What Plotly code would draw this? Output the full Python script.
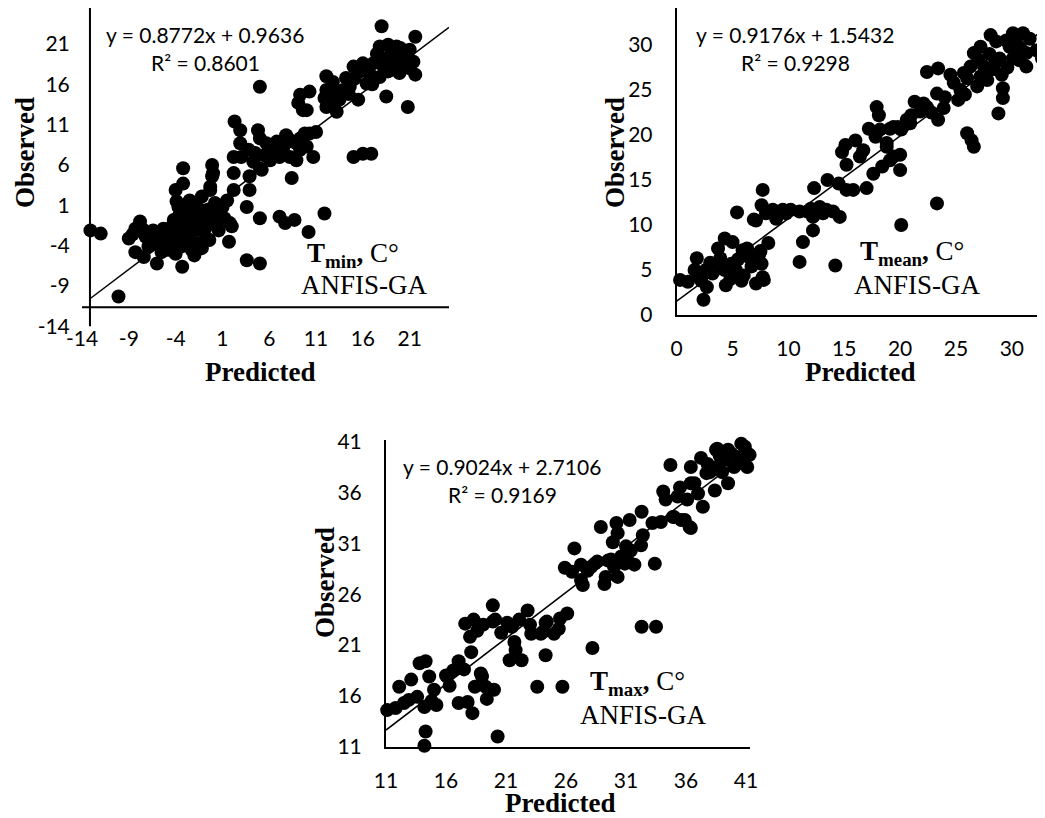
import plotly.graph_objects as go

# page body has an 8px margin, so the figure is drawn 8px in from the window corner
OFF = 8
W, H = 1045 - OFF, 818 - OFF

# ---------------- data ----------------
tmin_pred = [-13.1,-12.0,-10.1,-9.0,-7.8,-8.3,-8.3,-7.4,-6.0,-6.9,
 -6.4,-5.3,-5.8,-4.8,-4.0,-3.3,-3.7,-4.0,-3.2,-3.2,
 -3.7,-3.0,-2.3,-1.9,-2.3,-1.5,-1.2,-0.3,-0.1,-0.1,
 0.2,0.1,0.6,1.0,1.7,2.0,-4.8,-4.4,-2.6,-3.3,
 -4.0,-1.2,-0.7,-0.8,-5.8,-6.9,-7.2,-5.0,-4.5,-3.5,
 -3.0,-2.5,-2.0,-1.6,-3.8,-4.2,-2.8,-1.0,-0.5,0.3,
 -1.8,-2.5,-3.4,-5.5,-6.5,-7.5,-8.6,-2.0,-1.2,-0.4,
 0.4,1.2,1.5,-2.9,-3.9,
 2.3,2.9,4.8,5.0,2.9,2.2,3.0,3.8,4.5,5.7,
 6.8,7.8,8.2,8.9,9.3,7.1,6.1,8.2,9.3,10.0,
 10.7,8.9,8.4,5.0,2.2,3.9,3.9,2.2,0.0,-0.3,
 1.8,3.6,5.0,7.1,7.7,8.7,10.2,11.9,3.6,5.0,
 5.0,5.2,4.3,6.5,7.5,5.5,9.8,11.0,10.3,9.3,
 9.1,9.6,10.3,10.0,
 12.1,12.1,12.8,13.5,18.0,21.6,21.6,20.8,18.5,11.9,
 12.1,13.2,12.8,13.9,15.0,16.0,15.1,15.5,16.4,17.5,
 17.8,18.7,19.6,21.0,21.4,20.3,19.2,18.2,17.8,18.7,
 19.9,21.0,17.1,15.7,14.6,13.5,15.0,16.0,16.9,14.2,
 16.8,19.5,20.5,18.0,17.0,14.5,13.0,20.0,19.0,16.5]
tmin_obs = [-2.1,-2.5,-10.3,-3.1,-1.0,-1.9,-4.8,-5.4,-6.2,-2.5,
 -2.1,-1.9,-3.7,-4.5,-5.0,-6.6,0.8,2.9,3.7,5.6,
 -0.4,-1.2,-0.4,-2.1,-4.5,-3.7,2.1,2.9,4.6,6.0,
 1.3,-0.4,-2.1,0.8,-3.5,-1.6,-2.9,-1.6,-2.9,-2.5,
 -3.7,0.4,-1.6,-2.9,-2.9,-4.1,-2.9,-3.5,-2.2,-1.8,
 -3.4,-1.5,-0.9,-1.3,-2.6,-0.8,-0.2,-0.5,0.5,0.2,
 1.0,1.6,-4.1,-4.8,-3.2,-2.0,-2.6,-5.2,-4.3,-3.3,
 -1.2,-0.6,1.6,0.5,1.5,
 11.4,10.3,10.3,9.3,8.7,7.0,7.0,7.9,7.5,8.7,
 8.9,9.7,9.1,8.7,9.3,7.0,6.6,7.0,7.9,8.3,
 7.0,6.6,4.4,5.6,5.0,4.6,2.9,2.9,5.0,3.3,
 -1.2,0.8,-0.6,-0.4,-1.2,-0.8,-2.3,0.0,-5.8,-6.2,
 15.7,5.4,6.4,7.5,8.2,7.2,9.9,10.1,9.9,14.7,
 13.7,12.8,15.1,12.8,
 17.0,15.3,13.7,14.5,23.2,21.9,17.2,13.2,14.5,14.3,
 13.2,12.6,16.3,15.3,18.2,18.6,16.7,14.1,16.1,19.8,
 20.7,20.9,20.7,20.3,18.8,18.6,18.6,18.2,16.9,17.6,
 17.4,18.0,18.6,17.6,15.7,14.1,7.0,7.4,7.4,16.8,
 17.2,19.5,19.8,19.2,16.0,14.8,15.0,20.5,19.8,18.0]

tmean_pred = [0.3,1.0,1.8,2.4,1.6,2.6,2.7,3.2,3.4,3.7,
 4.3,5.0,4.4,4.3,4.9,5.3,5.9,6.4,6.7,7.1,
 7.7,7.6,7.4,8.2,5.4,6.3,7.8,6.9,7.7,7.1,
 7.6,8.0,8.6,8.9,9.5,9.8,10.2,11.0,11.7,12.3,
 12.8,13.4,14.0,14.6,13.1,12.2,12.2,11.3,11.0,14.2,
 12.3,13.5,14.5,15.2,15.8,17.0,15.2,14.8,15.1,16.0,
 16.4,16.7,17.2,17.9,18.1,17.8,18.2,18.8,19.4,20.1,
 20.9,21.3,21.8,22.4,23.4,24.5,23.3,23.9,23.4,22.4,
 17.6,18.4,19.1,20.0,20.0,23.3,20.1,22.1,25.2,25.4,
 25.7,26.3,26.6,27.2,28.1,28.6,28.9,28.5,27.8,26.9,
 29.2,29.2,29.1,28.8,26.0,26.4,26.6,30.1,31.0,31.6,
 31.3,30.7,31.3,30.1,29.8,32.2,32.7,27.5,27.2,19.8,
 19.1,20.6,18.8,19.4,2.0,3.0,5.5,6.0,4.8,5.8,
 6.8,3.9,2.2,24.8,25.8,27.0,28.0,29.5,30.5,28.3,
 26.0,24.0,22.8,21.0,30.8,29.6,7.5,12.0]
tmean_obs = [3.9,3.7,6.3,1.7,5.0,5.0,3.1,4.6,5.0,7.4,
 8.5,8.1,3.3,5.0,5.7,5.0,7.2,6.5,5.4,3.5,
 4.2,5.7,6.8,8.0,11.4,7.4,3.9,10.6,13.9,10.5,
 12.2,11.3,11.7,10.7,11.7,11.3,11.7,11.5,11.5,11.3,
 12.0,11.7,11.5,10.9,11.3,10.9,9.4,8.1,5.9,5.5,
 14.1,15.0,14.6,13.9,13.9,14.1,16.7,18.1,18.9,19.4,
 17.6,18.3,20.7,23.1,22.2,19.8,20.6,19.1,20.9,20.6,
 21.3,23.7,22.6,27.0,27.4,26.7,24.6,23.0,21.7,23.1,
 15.7,16.5,17.2,17.8,16.1,12.4,10.0,23.5,23.9,25.0,
 26.9,27.6,29.1,29.8,31.1,30.4,28.5,28.0,26.1,25.4,
 25.2,24.1,26.7,22.4,20.2,19.4,18.7,31.3,31.3,30.7,
 29.1,28.3,27.6,28.5,29.8,29.4,28.5,27.6,26.5,20.9,
 20.7,21.7,18.7,17.6,4.3,5.8,6.2,4.4,4.0,3.8,
 6.0,6.3,3.8,25.8,24.5,28.4,29.0,30.5,30.0,27.3,
 26.3,24.2,22.5,22.2,29.6,27.5,7.1,11.8]

tmax_pred = [11.1,11.8,12.1,13.1,12.9,13.8,14.3,14.6,13.6,14.2,
 14.3,14.2,15.2,15.0,16.1,16.6,17.05,17.8,18.2,18.1,
 17.6,18.3,18.6,18.0,19.1,19.9,19.9,18.9,19.3,20.0,
 19.4,18.4,19.0,17.05,20.3,20.6,21.1,21.7,21.8,21.3,
 22.3,22.1,22.8,23.1,23.0,23.9,24.3,24.3,23.6,25.0,
 25.4,25.5,25.7,26.1,25.9,26.7,27.25,27.25,27.4,28.1,
 28.6,28.2,29.2,28.9,29.9,30.2,30.3,30.6,30.0,30.3,
 31.1,31.7,31.4,32.25,32.4,31.3,32.3,33.2,33.9,34.9,
 33.4,32.3,33.5,35.9,36.4,34.1,34.3,34.7,35.3,36.1,
 36.4,37.0,37.4,37.25,37.7,38.4,38.5,39.5,39.2,39.75,
 40.6,41.1,41.1,40.0,38.6,39.5,28.4,29.3,29.75,30.9,
 36.4,36.7,38.6,40.0,40.9,41.3,35.0,35.6,36.3,24.4,
 24.1,38.0,39.0,40.3,39.8,38.8,37.8,40.5,35.5,12.5,
 16.3,17.5,14.8,21.5,20.1,26.5,27.8,29.5,31.0,16.0]
tmax_obs = [14.6,14.8,16.9,17.6,15.6,19.2,19.4,17.9,15.9,14.9,
 12.5,11.1,15.1,16.6,17.9,18.5,19.4,15.4,14.3,20.3,
 23.1,23.5,22.4,21.8,23.0,23.3,24.9,18.2,16.9,16.6,
 15.7,16.9,17.9,15.3,12.0,22.2,23.2,21.3,20.5,19.5,
 19.5,23.5,24.4,22.1,23.0,22.1,23.2,20.0,16.9,22.1,
 22.6,23.6,16.9,24.1,28.6,30.5,28.9,27.4,26.9,28.7,
 29.2,20.7,27.0,32.6,31.1,33.0,32.0,29.7,28.7,27.7,
 29.4,28.9,30.3,30.8,31.8,33.3,34.1,33.0,33.1,33.6,
 29.0,22.8,22.8,33.3,32.5,36.1,35.3,38.7,35.6,35.3,
 36.9,35.9,34.6,39.4,37.9,36.2,40.2,36.9,39.2,41.3,
 40.8,39.8,38.5,38.5,38.5,40.2,29.0,27.7,29.4,29.0,
 38.5,36.9,40.3,41.2,40.5,39.7,33.6,33.3,32.6,23.3,
 22.3,38.0,38.0,39.5,39.8,39.6,38.8,38.9,36.5,15.3,
 17.0,18.6,15.5,22.8,23.5,28.2,28.3,29.3,30.7,18.0]

# trendline coefficients (as printed on the chart)
fit_tmin = (0.8772, 0.9636)
fit_tmean = (0.9176, 1.5432)
fit_tmax = (0.9024, 2.7106)

eq_tmin = ["y = 0.8772x + 0.9636", "R² = 0.8601"]
eq_tmean = ["y = 0.9176x + 1.5432", "R² = 0.9298"]
eq_tmax = ["y = 0.9024x + 2.7106", "R² = 0.9169"]

ticks_tmin = [-14, -9, -4, 1, 6, 11, 16, 21]
ticks_tmean = [0, 5, 10, 15, 20, 25, 30]
ticks_tmax = [11, 16, 21, 26, 31, 36, 41]

for a, b in [(tmin_pred, tmin_obs), (tmean_pred, tmean_obs), (tmax_pred, tmax_obs)]:
    assert len(a) == len(b)

# ---------------- layout helpers (window pixels -> paper) ----------------
def px(x):
    return (x - OFF) / W

def py(y):
    return 1 - (y - OFF) / H

def xdom(l, r):
    return [max(0.0, px(l)), min(1.0, px(r))]

def ydom(top, bottom):
    return [max(0.0, py(bottom)), min(1.0, py(top))]

SANS = "Lato, 'Open Sans', sans-serif"
SERIF = "'Liberation Serif', 'Times New Roman', serif"
TICKFONT = dict(family=SANS, size=21, color="black")

fig = go.Figure()

panels = [
    dict(xa="x", ya="y", pred=tmin_pred, obs=tmin_obs, fit=fit_tmin,
         line_x=(-13.15, 25.2)),
    dict(xa="x2", ya="y2", pred=tmean_pred, obs=tmean_obs, fit=fit_tmean,
         line_x=(0.0, 33.0)),
    dict(xa="x3", ya="y3", pred=tmax_pred, obs=tmax_obs, fit=fit_tmax,
         line_x=(11.0, 41.3)),
]

for p in panels:
    m, c = p["fit"]
    lx = list(p["line_x"])
    fig.add_trace(go.Scatter(x=lx, y=[m * v + c for v in lx], mode="lines",
                             line=dict(color="black", width=1.5),
                             xaxis=p["xa"], yaxis=p["ya"], showlegend=False,
                             hoverinfo="skip"))
    fig.add_trace(go.Scatter(x=p["pred"], y=p["obs"], mode="markers",
                             marker=dict(color="black", size=14, line=dict(width=0)),
                             xaxis=p["xa"], yaxis=p["ya"], showlegend=False,
                             cliponaxis=False))

def axis(dom, rng, ticks, anchor, ticklen, showline, **kw):
    d = dict(domain=dom, range=rng, tickmode="array", tickvals=ticks,
             ticktext=[str(t) for t in ticks], showgrid=False, zeroline=False,
             showline=showline, linecolor="black", linewidth=2,
             ticks="outside", ticklen=ticklen, tickcolor="rgba(0,0,0,0)",
             tickfont=TICKFONT, anchor=anchor, fixedrange=True,
             automargin=False)
    d.update(kw)
    return d

fig.update_layout(
    width=W, height=H, margin=dict(l=0, r=0, t=0, b=0, autoexpand=False),
    paper_bgcolor="white", plot_bgcolor="white",
    xaxis=axis(xdom(82, 449), [-14, 25.2], ticks_tmin, "free", 0, False,
               position=py(320)),
    yaxis=axis(ydom(8, 326.4), [-14, 25.46], ticks_tmin, "x", 7, False),
    xaxis2=axis(xdom(676.7, 1045), [0, 32.97], ticks_tmean, "y2", 14, True),
    yaxis2=axis(ydom(8.3, 315), [0, 34.08], ticks_tmean, "x2", 18, True),
    xaxis3=axis(xdom(386, 750), [11, 41.33], ticks_tmax, "y3", 14, True),
    yaxis3=axis(ydom(440, 746.7), [11, 41.16], ticks_tmax, "x3", 18, True),
)

# axis lines of the first panel cross inside the plot area
fig.add_shape(type="line", xref="x", yref="y", x0=-13.15, x1=-13.15, y0=-14, y1=25.46,
              line=dict(color="black", width=2))
fig.add_shape(type="line", xref="x", yref="y", x0=-14, x1=25.2, y0=-11.63, y1=-11.63,
              line=dict(color="black", width=2))

EQFONT = dict(family=SANS, size=21, color="black")
TITLEFONT = dict(family=SERIF, size=27, color="black")

def ann(x, y, text, font, angle=0):
    fig.add_annotation(x=px(x), y=py(y), xref="paper", yref="paper", text=text,
                       showarrow=False, font=font, textangle=angle,
                       xanchor="center", yanchor="middle")

labels = [
    (eq_tmin, (205, 34), (205, 63), "<b>T<sub>min</sub>,</b> C°", (353, 255), (364, 285),
     (25, 153), (260, 372)),
    (eq_tmean, (795, 34), (795, 63), "<b>T<sub>mean</sub>,</b> C°", (912, 253), (917, 285),
     (615, 153), (860, 372)),
    (eq_tmax, (502, 466), (502, 495), "<b>T<sub>max</sub>,</b> C°", (637, 683), (643, 715),
     (325, 583), (560, 803)),
]
for eq, peq, pr2, tname, pt, pa, pobs, ppred in labels:
    ann(*peq, eq[0], EQFONT)
    ann(*pr2, eq[1], EQFONT)
    ann(*pt, tname, TITLEFONT)
    ann(*pa, "ANFIS-GA", TITLEFONT)
    ann(*pobs, "<b>Observed</b>", TITLEFONT, angle=-90)
    ann(*ppred, "<b>Predicted</b>", TITLEFONT)

fig.write_html("out.html")
